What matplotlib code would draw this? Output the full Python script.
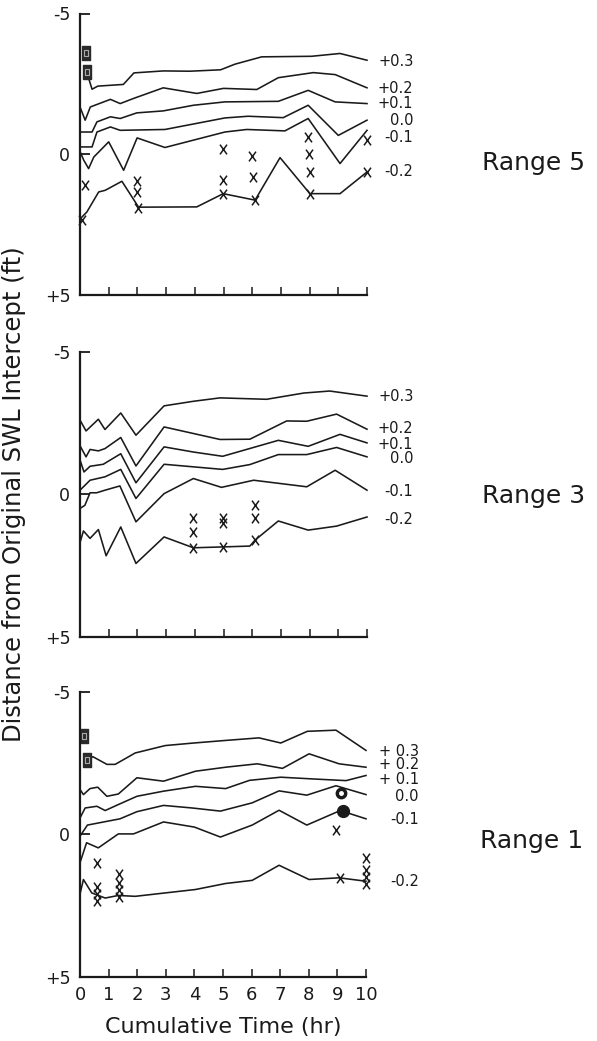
import matplotlib
matplotlib.use("Agg")
import matplotlib.pyplot as plt
from matplotlib.path import Path

# ---------------- data (time in hr, distance in ft; negative = landward/up) ----
# Range 5
r5_p03_t = [0.24, 0.42, 0.62, 1.51, 1.88, 2.9, 3.83, 4.9, 5.4, 6.33, 8.07, 9.06, 10.0]
r5_p03_v = [-2.9, -2.31, -2.42, -2.48, -2.89, -2.96, -2.95, -3.0, -3.2, -3.46, -3.48, -3.58, -3.34]
r5_p02_t = [0.0, 0.18, 0.36, 1.06, 1.4, 1.86, 2.9, 4.07, 5.0, 6.16, 6.91, 8.13, 8.89, 10.0]
r5_p02_v = [-1.68, -1.21, -1.68, -1.95, -1.8, -1.98, -2.36, -2.16, -2.34, -2.3, -2.72, -2.9, -2.83, -2.36]
r5_p01_t = [0.0, 0.42, 0.59, 1.06, 1.4, 1.98, 2.9, 3.95, 5.05, 6.91, 7.95, 8.89, 10.0]
r5_p01_v = [-0.79, -0.79, -1.15, -1.33, -1.27, -1.47, -1.54, -1.74, -1.86, -1.88, -2.27, -1.86, -1.8]
r5_000_t = [0.0, 0.42, 0.59, 1.06, 1.4, 2.96, 5.05, 5.86, 7.08, 7.95, 9.0, 10.0]
r5_000_v = [-0.26, -0.26, -0.79, -0.97, -0.85, -0.88, -1.29, -1.35, -1.3, -1.74, -0.67, -1.21]
r5_m01_t = [0.0, 0.13, 0.3, 0.48, 1.0, 1.52, 1.99, 2.96, 5.05, 5.81, 7.14, 7.95, 9.06, 10.0]
r5_m01_v = [-0.1, 0.21, 0.51, 0.1, -0.44, 0.57, -0.58, -0.24, -0.79, -0.88, -0.83, -1.27, 0.33, -0.85]
r5_m02_t = [0.0, 0.24, 0.65, 0.88, 1.46, 2.04, 4.07, 4.99, 6.1, 6.97, 8.01, 9.06, 10.0]
r5_m02_v = [2.3, 2.05, 1.34, 1.28, 0.96, 1.88, 1.87, 1.4, 1.63, 0.12, 1.4, 1.4, 0.63]
r5_x_t = [0.06, 0.18, 1.99, 2.0, 2.03, 4.99, 4.99, 4.99, 5.99, 6.04, 6.1, 7.95, 7.98, 8.01, 8.01, 10.0, 10.0]
r5_x_v = [2.34, 1.08, 0.95, 1.34, 1.92, -0.2, 0.93, 1.4, 0.07, 0.81, 1.63, -0.61, 0.0, 0.63, 1.4, -0.5, 0.63]
r5_sq_t = [0.21, 0.25]
r5_sq_v = [-3.6, -2.92]

# Range 3
r3_p03_t = [0.0, 0.21, 0.64, 0.87, 1.42, 1.95, 2.93, 3.95, 4.88, 6.5, 7.8, 8.7, 10.0]
r3_p03_v = [-2.6, -2.22, -2.63, -2.27, -2.85, -2.07, -3.1, -3.26, -3.38, -3.33, -3.55, -3.62, -3.44]
r3_p02_t = [0.0, 0.21, 0.35, 0.64, 0.87, 1.42, 1.95, 2.93, 3.95, 4.88, 5.92, 7.2, 7.9, 8.94, 10.0]
r3_p02_v = [-1.7, -1.31, -1.57, -1.52, -1.6, -1.99, -0.99, -2.36, -2.13, -1.92, -1.93, -2.57, -2.56, -2.81, -2.28]
r3_p01_t = [0.0, 0.14, 0.35, 0.81, 1.42, 1.95, 2.93, 3.95, 4.97, 6.91, 7.95, 9.06, 10.0]
r3_p01_v = [-1.2, -0.78, -0.98, -1.05, -1.42, -0.4, -1.66, -1.48, -1.33, -1.89, -1.68, -2.1, -1.8]
r3_000_t = [0.0, 0.35, 0.87, 1.42, 1.95, 2.93, 3.95, 4.97, 5.92, 6.91, 7.9, 8.94, 10.0]
r3_000_v = [-0.14, -0.49, -0.61, -0.87, 0.15, -1.05, -0.96, -0.87, -1.04, -1.39, -1.39, -1.64, -1.31]
r3_m01_t = [0.0, 0.17, 0.35, 0.58, 0.87, 1.39, 1.95, 2.93, 3.95, 4.93, 6.05, 7.9, 8.89, 10.0]
r3_m01_v = [0.5, 0.39, -0.05, -0.05, -0.14, -0.29, 0.97, -0.02, -0.55, -0.24, -0.49, -0.26, -0.84, -0.14]
r3_m02_t = [0.0, 0.12, 0.35, 0.64, 0.91, 1.42, 1.95, 2.93, 3.95, 4.97, 5.92, 6.1, 6.91, 7.95, 8.94, 10.0]
r3_m02_v = [1.7, 1.29, 1.55, 1.24, 2.16, 1.15, 2.43, 1.5, 1.88, 1.85, 1.82, 1.61, 0.94, 1.26, 1.12, 0.8]
r3_x_t = [3.95, 3.95, 3.95, 4.97, 4.97, 4.97, 6.1, 6.1, 6.1]
r3_x_v = [0.85, 1.32, 1.88, 0.85, 1.02, 1.85, 0.39, 0.85, 1.61]

# Range 1
r1_p03_t = [0.24, 0.45, 0.94, 1.23, 1.93, 2.98, 3.98, 5.09, 6.26, 7.02, 7.95, 8.95, 10.0]
r1_p03_v = [-2.6, -2.72, -2.45, -2.45, -2.85, -3.11, -3.2, -3.29, -3.38, -3.2, -3.61, -3.65, -2.94]
r1_p02_t = [0.0, 0.12, 0.35, 0.62, 0.94, 1.34, 1.99, 2.92, 4.04, 5.09, 6.2, 7.08, 8.01, 9.06, 10.0]
r1_p02_v = [-1.57, -1.39, -1.6, -1.65, -1.33, -1.41, -1.98, -1.86, -2.21, -2.35, -2.47, -2.31, -2.82, -2.47, -2.35]
r1_p01_t = [0.0, 0.18, 0.59, 0.88, 1.34, 1.99, 2.92, 4.04, 5.09, 5.93, 7.02, 8.12, 9.3, 10.0]
r1_p01_v = [-0.57, -0.92, -0.98, -0.83, -1.04, -1.33, -1.51, -1.68, -1.6, -1.89, -2.0, -1.94, -1.88, -2.06]
r1_000_t = [0.0, 0.26, 1.4, 1.99, 2.92, 3.92, 4.91, 6.02, 6.96, 7.93, 8.95, 10.0]
r1_000_v = [0.07, -0.32, -0.54, -0.79, -1.01, -0.92, -0.81, -1.1, -1.52, -1.37, -1.7, -1.39]
r1_m01_t = [0.0, 0.23, 0.64, 1.34, 1.87, 2.92, 4.0, 4.91, 6.02, 6.96, 7.93, 9.1, 10.0]
r1_m01_v = [1.0, 0.3, 0.48, -0.01, -0.01, -0.43, -0.25, 0.1, -0.32, -0.84, -0.32, -0.83, -0.54]
r1_m02_t = [0.0, 0.12, 0.41, 0.88, 1.34, 1.93, 4.04, 5.09, 6.02, 6.96, 8.01, 9.06, 10.0]
r1_m02_v = [2.1, 1.59, 2.06, 2.24, 2.15, 2.18, 1.94, 1.73, 1.62, 1.09, 1.59, 1.53, 1.65]
r1_x_t = [0.6, 0.6, 0.6, 0.6, 1.35, 1.35, 1.35, 1.35, 8.95, 9.09, 10.0, 10.0, 10.0, 10.0]
r1_x_v = [1.0, 1.85, 2.1, 2.35, 1.4, 1.7, 1.95, 2.2, -0.16, 1.53, 0.83, 1.24, 1.5, 1.74]
r1_sq_t = [0.14, 0.23]
r1_sq_v = [-3.44, -2.6]
r1_open_t, r1_open_v = [9.12], [-1.45]
r1_fill_t, r1_fill_v = [9.18], [-0.83]

contour_names = ["+0.3", "+0.2", "+0.1", "0.0", "-0.1", "-0.2"]
r1_names = ["+ 0.3", "+ 0.2", "+ 0.1", "0.0", "-0.1", "-0.2"]
r5_label_y = [-3.31, -2.33, -1.82, -1.21, -0.61, 0.63]
r3_label_y = [-3.44, -2.30, -1.75, -1.25, -0.08, 0.89]
r1_label_y = [-2.91, -2.45, -1.92, -1.33, -0.52, 1.65]
range_names = ["Range 5", "Range 3", "Range 1"]
xtick_labels = ["0", "1", "2", "3", "4", "5", "6", "7", "8", "9", "10"]
ytick_vals = [-5, 0, 5]
ytick_labels = ["-5", "0", "+5"]

# ---------------- figure ----------------
W, H = 597, 1041
plt.rcParams['font.family'] = ['DejaVu Sans']
fig = plt.figure(figsize=(W / 100, H / 100), dpi=100)


def px_rect(x0, x1, ytop, ybot):
    return [x0 / W, 1 - ybot / H, (x1 - x0) / W, (ybot - ytop) / H]


xpath = Path([(-0.72, -1), (0.72, 1), (-0.72, 1), (0.72, -1)],
             [Path.MOVETO, Path.LINETO, Path.MOVETO, Path.LINETO])
rpath = Path([(-0.62, -1), (0.62, -1), (0.62, 1), (-0.62, 1), (-0.62, -1)],
             [Path.MOVETO, Path.LINETO, Path.LINETO, Path.LINETO, Path.CLOSEPOLY])

INK = "#1a1a1a"

panels = [
    dict(rect=px_rect(80, 367, 13.5, 295),
         lines=[(r5_p03_t, r5_p03_v), (r5_p02_t, r5_p02_v), (r5_p01_t, r5_p01_v),
                (r5_000_t, r5_000_v), (r5_m01_t, r5_m01_v), (r5_m02_t, r5_m02_v)],
         xs=(r5_x_t, r5_x_v), sq=(r5_sq_t, r5_sq_v), names=contour_names,
         label_y=r5_label_y, label_x=11.62, range_y=0.55, xlabels=False),
    dict(rect=px_rect(80, 367, 351.7, 636.7),
         lines=[(r3_p03_t, r3_p03_v), (r3_p02_t, r3_p02_v), (r3_p01_t, r3_p01_v),
                (r3_000_t, r3_000_v), (r3_m01_t, r3_m01_v), (r3_m02_t, r3_m02_v)],
         xs=(r3_x_t, r3_x_v), sq=None, names=contour_names,
         label_y=r3_label_y, label_x=11.62, range_y=0.3, xlabels=False),
    dict(rect=px_rect(80, 366, 691.7, 976.7),
         lines=[(r1_p03_t, r1_p03_v), (r1_p02_t, r1_p02_v), (r1_p01_t, r1_p01_v),
                (r1_000_t, r1_000_v), (r1_m01_t, r1_m01_v), (r1_m02_t, r1_m02_v)],
         xs=(r1_x_t, r1_x_v), sq=(r1_sq_t, r1_sq_v), names=r1_names,
         label_y=r1_label_y, label_x=11.85, range_y=0.48, xlabels=True),
]

for i, p in enumerate(panels):
    ax = fig.add_axes(p["rect"])
    ax.set_xlim(0, 10)
    ax.set_ylim(5, -5)
    for s in ("top", "right"):
        ax.spines[s].set_visible(False)
    for s in ("left", "bottom"):
        ax.spines[s].set_linewidth(1.6)
        ax.spines[s].set_color(INK)
    ax.set_yticks(ytick_vals)
    ax.set_yticklabels(ytick_labels, fontsize=12.5, color=INK)
    ax.tick_params(axis="y", direction="in", length=7.5, width=1.3, pad=7, color=INK)
    ax.set_xticks(range(11))
    ax.tick_params(axis="x", direction="in", length=5.5, width=1.1, pad=7, color=INK)
    if p["xlabels"]:
        ax.set_xticklabels(xtick_labels, fontsize=13, color=INK)
    else:
        ax.set_xticklabels([])

    for t, v in p["lines"]:
        ax.plot(t, v, color=INK, lw=1.15, clip_on=False)

    xt, xv = p["xs"]
    ax.plot(xt, xv, ls="none", marker=xpath, ms=7, mec=INK, mfc="none",
            mew=1.1, clip_on=False)

    if p["sq"] is not None:
        st, sv = p["sq"]
        ax.plot(st, sv, ls="none", marker=rpath, ms=9.5, mec="#2a2a2a", mfc="#2a2a2a",
                mew=1.0, clip_on=False)
        ax.plot(st, sv, ls="none", marker=rpath, ms=5, mec="#aaaaaa", mfc="none",
                mew=0.8, clip_on=False)

    if i == 2:
        ax.plot(r1_open_t, r1_open_v, ls="none", marker="o", ms=7.5, mfc=INK,
                mec=INK, clip_on=False)
        ax.plot(r1_open_t, r1_open_v, ls="none", marker="o", ms=2.5, mfc="white",
                mec="white", clip_on=False)
        ax.plot(r1_fill_t, r1_fill_v, ls="none", marker="o", ms=8.5, mfc=INK,
                mec=INK, clip_on=False)

    for name, ly in zip(p["names"], p["label_y"]):
        ax.text(p["label_x"], ly, name, ha="right", va="center", fontsize=10.5,
                color=INK, clip_on=False)

    # x in axes fraction, y in data units
    ax.text(1.40, p["range_y"], range_names[i], transform=ax.get_yaxis_transform(),
            ha="left", va="baseline", fontsize=18, color=INK)

fig.text(223 / W, 1 - 1027 / H, "Cumulative Time (hr)", ha="center", va="center",
         fontsize=16, color=INK)
fig.text(14.5 / W, 1 - 494 / H, "Distance from Original SWL Intercept (ft)",
         rotation=90, ha="center", va="center", fontsize=17.5, color=INK)

fig.savefig("out.png", dpi=100)
